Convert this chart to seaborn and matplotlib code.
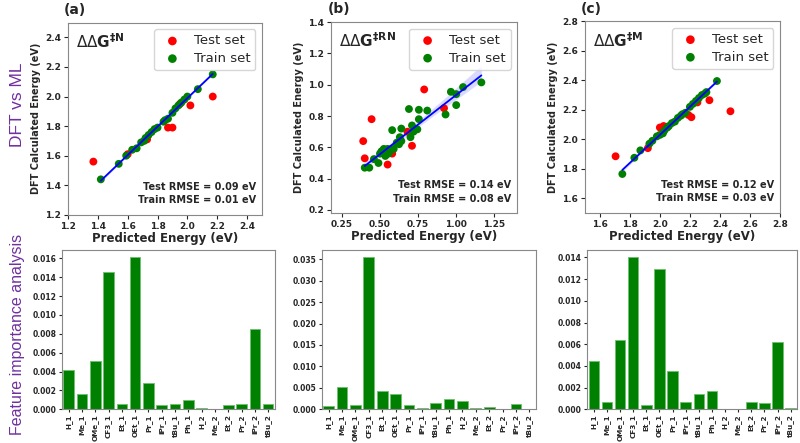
import numpy as np
import pandas as pd
import matplotlib
matplotlib.use("Agg")
import matplotlib.pyplot as plt
import seaborn as sns

# Scatter data: predicted (ML) vs DFT energies
a_test_pred = [1.37, 1.60, 1.87, 1.90, 2.02, 2.17, 1.73, 1.95]
a_test_dft = [1.56, 1.61, 1.79, 1.79, 1.94, 2.00, 1.71, 1.95]
a_train_pred = [1.42, 1.54, 1.59, 1.63, 1.66, 1.69, 1.71, 1.72, 1.74, 1.76, 1.78, 1.80,
                1.84, 1.85, 1.87, 1.90, 1.92, 1.94, 1.96, 1.98, 2.00, 2.07, 2.17]
a_train_dft = [1.44, 1.545, 1.60, 1.64, 1.65, 1.69, 1.70, 1.72, 1.74, 1.76, 1.78, 1.79,
               1.83, 1.84, 1.85, 1.89, 1.92, 1.94, 1.96, 1.98, 2.00, 2.05, 2.15]

b_test_pred = [0.39, 0.40, 0.445, 0.55, 0.58, 0.68, 0.71, 0.79, 0.92]
b_test_dft = [0.64, 0.53, 0.78, 0.49, 0.56, 0.70, 0.61, 0.97, 0.85]
b_train_pred = [0.40, 0.43, 0.46, 0.49, 0.51, 0.525, 0.535, 0.55, 0.556, 0.57, 0.59, 0.58,
                0.625, 0.63, 0.64, 0.64, 0.69, 0.70, 0.71, 0.72, 0.745, 0.755, 0.755, 0.81,
                0.93, 0.965, 1.00, 1.00, 1.045, 1.165, 0.61, 0.53, 0.50]
b_train_dft = [0.47, 0.47, 0.525, 0.50, 0.575, 0.59, 0.545, 0.59, 0.56, 0.58, 0.59, 0.71,
               0.62, 0.665, 0.72, 0.64, 0.845, 0.665, 0.74, 0.70, 0.715, 0.78, 0.84, 0.835,
               0.81, 0.955, 0.94, 0.87, 0.985, 1.015, 0.63, 0.57, 0.56]

c_test_pred = [1.705, 1.92, 2.00, 2.025, 2.19, 2.21, 2.25, 2.33, 2.47]
c_test_dft = [1.885, 1.94, 2.08, 2.09, 2.165, 2.15, 2.25, 2.265, 2.19]
c_train_pred = [1.75, 1.83, 1.87, 1.93, 1.95, 1.98, 2.00, 2.02, 2.03, 2.05, 2.06, 2.08,
                2.10, 2.12, 2.14, 2.15, 2.17, 2.20, 2.22, 2.24, 2.26, 2.28, 2.30, 2.31, 2.38]
c_train_dft = [1.765, 1.875, 1.925, 1.97, 1.99, 2.02, 2.03, 2.04, 2.06, 2.08, 2.09, 2.11,
               2.12, 2.145, 2.16, 2.17, 2.18, 2.22, 2.24, 2.26, 2.28, 2.30, 2.31, 2.32, 2.395]

# Feature importances
features = ['H_1', 'Me_1', 'OMe_1', 'CF3_1', 'Et_1', 'OEt_1', 'Pr_1', 'iPr_1',
            'tBu_1', 'Ph_1', 'H_2', 'Me_2', 'Et_2', 'Pr_2', 'iPr_2', 'tBu_2']
imp_a = [0.0042, 0.0016, 0.0051, 0.0146, 0.0006, 0.0161, 0.0028, 0.0005,
         0.0006, 0.00095, 0.0001, 0.0, 0.0005, 0.0006, 0.0085, 0.0006]
imp_b = [0.0008, 0.0052, 0.0010, 0.0354, 0.0042, 0.0036, 0.0009, 0.0003,
         0.0014, 0.0023, 0.0019, 0.0002, 0.0006, 0.0, 0.0012, 0.0]
imp_c = [0.0045, 0.00065, 0.0064, 0.0140, 0.0004, 0.0129, 0.0035, 0.00065,
         0.00145, 0.0017, 0.0, 0.00005, 0.00065, 0.00055, 0.0062, 0.0001]

titles = [r'$\Delta\Delta\mathbf{G}^{\mathbf{\ddag N}}$',
          r'$\Delta\Delta\mathbf{G}^{\mathbf{\ddag RN}}$',
          r'$\Delta\Delta\mathbf{G}^{\mathbf{\ddag M}}$']
rmse_text = ['Test RMSE = 0.09 eV\nTrain RMSE = 0.01 eV',
             'Test RMSE = 0.14 eV\nTrain RMSE = 0.08 eV',
             'Test RMSE = 0.12 eV\nTrain RMSE = 0.03 eV']
panel_labels = ['(a)', '(b)', '(c)']
limits = [(1.2, 2.5), (0.18, 1.4), (1.5, 2.8)]

sns.set_style('ticks')
plt.rcParams['font.family'] = ['DejaVu Sans']

fig = plt.figure(figsize=(8, 4.43), dpi=100)

scatter_pos = [[0.085, 0.515, 0.2425, 0.434],
               [0.414, 0.519, 0.2325, 0.431],
               [0.731, 0.519, 0.244, 0.433]]
bar_pos = [[0.0775, 0.076, 0.266, 0.360],
           [0.4025, 0.076, 0.2675, 0.360],
           [0.734, 0.076, 0.2625, 0.360]]

scatter_sets = [(a_test_pred, a_test_dft, a_train_pred, a_train_dft),
                (b_test_pred, b_test_dft, b_train_pred, b_train_dft),
                (c_test_pred, c_test_dft, c_train_pred, c_train_dft)]
imps = [imp_a, imp_b, imp_c]

for i in range(3):
    tp, td, rp, rd = scatter_sets[i]
    ax = fig.add_axes(scatter_pos[i])
    sns.scatterplot(x=tp, y=td, color='red', s=32, edgecolor='none', label='Test set', ax=ax, zorder=3)
    sns.scatterplot(x=rp, y=rd, color='green', s=32, edgecolor='none', label='Train set', ax=ax, zorder=3)
    sns.regplot(x=rp, y=rd, scatter=False, color='blue', ax=ax, seed=0,
                line_kws={'linewidth': 1.3, 'zorder': 4})
    ax.set_xlim(limits[i])
    ax.set_ylim(limits[i])
    ax.set_xlabel('Predicted Energy (eV)', fontsize=8.5, fontweight='bold', labelpad=1)
    ax.set_ylabel('DFT Calculated Energy (eV)', fontsize=7, fontweight='bold', labelpad=3)
    ax.tick_params(labelsize=6.5, length=3, pad=2)
    for lab in ax.get_xticklabels() + ax.get_yticklabels():
        lab.set_fontweight('bold')
    for sp in ax.spines.values():
        sp.set_visible(True)
        sp.set_color('#888888')
    ax.legend(loc='upper right', fontsize=9.5, handletextpad=0.6, borderpad=0.4,
              labelspacing=0.35, markerscale=1.1)
    ax.text(0.04, 0.95, titles[i], transform=ax.transAxes, fontsize=11, va='top', ha='left')
    ax.text(0.97, 0.05, rmse_text[i], transform=ax.transAxes, fontsize=7, fontweight='bold',
            ha='right', va='bottom', linespacing=1.4)
    ax.text(-0.02, 1.03, panel_labels[i], transform=ax.transAxes, fontsize=10,
            fontweight='bold', ha='left', va='bottom')

    # bar chart
    bx = fig.add_axes(bar_pos[i])
    df = pd.DataFrame({'feature': features, 'importance': imps[i]})
    sns.barplot(data=df, x='feature', y='importance', color='green', saturation=1,
                edgecolor='#6fbf6f', linewidth=0.6, ax=bx)
    bx.set_xlabel('')
    bx.set_ylabel('')
    bx.tick_params(axis='x', rotation=90, labelsize=5.2, length=2.5, pad=1)
    bx.tick_params(axis='y', labelsize=5.5, length=2.5, pad=1.5)
    bx.yaxis.set_major_formatter(matplotlib.ticker.FormatStrFormatter('%.3f'))
    for lab in bx.get_xticklabels() + bx.get_yticklabels():
        lab.set_fontweight('bold')
    for sp in bx.spines.values():
        sp.set_visible(True)
        sp.set_color('#888888')

fig.text(0.0225, 0.763, 'DFT vs ML', rotation=90, color='#7030A0', fontsize=12.5,
         family='Liberation Sans', ha='center', va='center')
fig.text(0.0225, 0.245, 'Feature importance analysis', rotation=90, color='#7030A0',
         fontsize=11.5, family='Liberation Sans', ha='center', va='center')

plt.savefig('out.png', dpi=100)
